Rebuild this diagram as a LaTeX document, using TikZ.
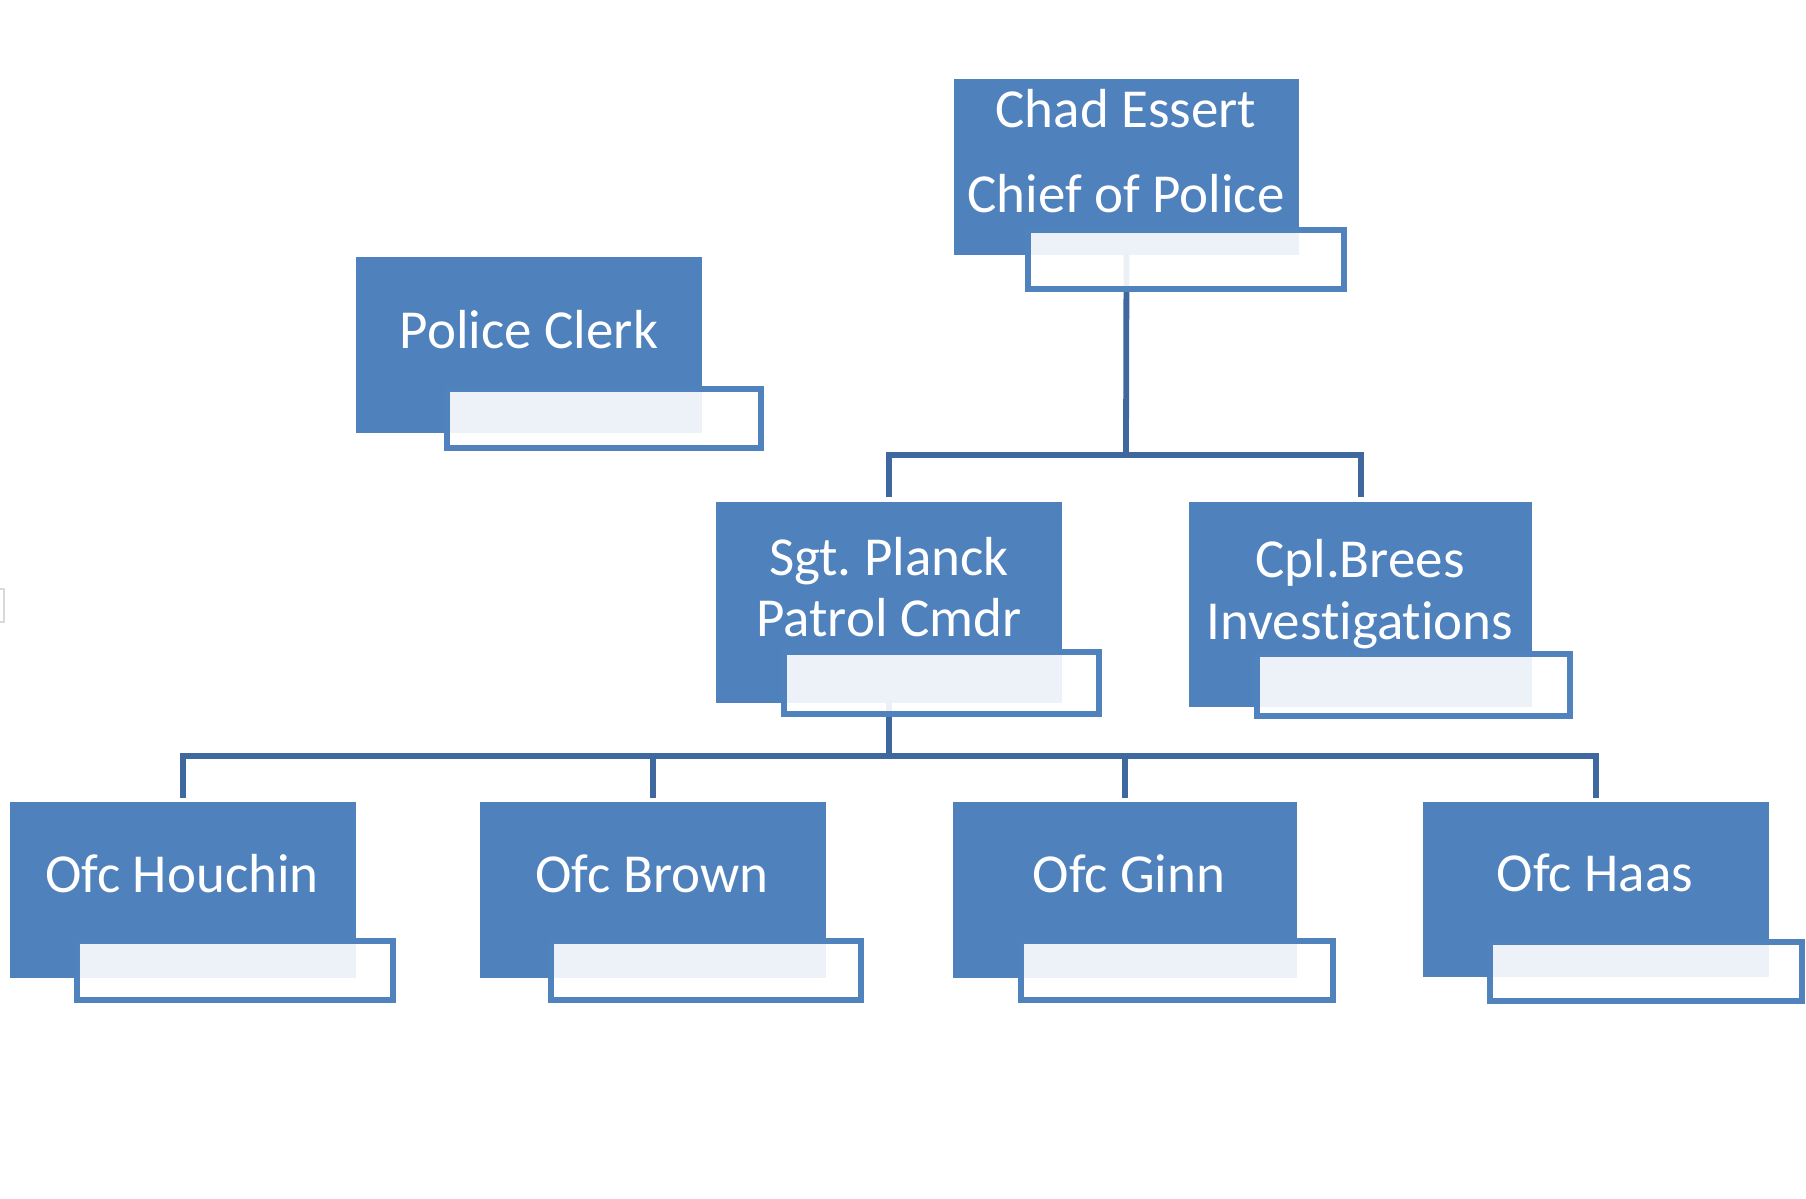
\documentclass[tikz,border=0pt]{standalone}
\usepackage{fontspec}
\setmainfont{Carlito}[Ligatures={NoCommon,NoDiscretionary,NoContextual}]
\frenchspacing
\definecolor{boxblue}{RGB}{79,129,189}
\definecolor{linkblue}{RGB}{62,104,158}
\definecolor{subedge}{RGB}{80,130,190}
\begin{document}
\begin{tikzpicture}[x=0.5pt,y=-0.5pt,
  bluebox/.style={rectangle, fill=boxblue, draw=none, inner sep=0pt, outer sep=0pt, anchor=north west},
  subbox/.style={rectangle, fill=white, fill opacity=0.9, draw=subedge, draw opacity=1, line width=3pt, inner sep=0pt, outer sep=0pt, anchor=north west, minimum height=29.5pt},
  label/.style={text=white, font=\fontsize{27.5pt}{33pt}\selectfont, anchor=base, inner sep=0pt},
  link/.style={draw=linkblue, line width=2.9pt, line cap=rect, line join=miter}]
\useasboundingbox (0,0) rectangle (1806,1199);
\fill[white] (0,0) rectangle (1806,1199);
% faint artifact at left edge
\draw[black!15, line width=1.2pt] (-20,589) rectangle (4,622);

% main boxes
\node[bluebox, minimum width=172.5pt, minimum height=88pt] (chief) at (954,79) {};
\node[bluebox, minimum width=173pt, minimum height=88pt] (clerk) at (356,257) {};
\node[bluebox, minimum width=173pt, minimum height=100.5pt] (sgt) at (716,502) {};
\node[bluebox, minimum width=171.5pt, minimum height=102.5pt] (cpl) at (1189,502) {};
\node[bluebox, minimum width=173pt, minimum height=88pt] (hou) at (10,802) {};
\node[bluebox, minimum width=173pt, minimum height=88pt] (bro) at (480,802) {};
\node[bluebox, minimum width=172pt, minimum height=88pt] (gin) at (953,802) {};
\node[bluebox, minimum width=173pt, minimum height=87.5pt] (haa) at (1423,802) {};

% connectors
\coordinate (j1) at (1126,455);
\coordinate (j1l) at (889,455);
\coordinate (j1r) at (1361,455);
\coordinate (d1l) at (889,494);
\coordinate (d1r) at (1361,494);
\draw[link] (chief.south) -- (j1);
\draw[link] (d1l) -- (j1l) -- (j1r) -- (d1r);

\coordinate (j2) at (889,756);
\coordinate (j2a) at (183,756);
\coordinate (j2b) at (653,756);
\coordinate (j2c) at (1125,756);
\coordinate (j2d) at (1596,756);
\coordinate (d2a) at (183,795);
\coordinate (d2b) at (653,795);
\coordinate (d2c) at (1125,795);
\coordinate (d2d) at (1596,795);
\draw[link] (sgt.south -| j2) -- (j2);
\draw[link] (d2a) -- (j2a) -- (j2d) -- (d2d);
\draw[link] (j2b) -- (d2b);
\draw[link] (j2c) -- (d2c);

% sub boxes (over connectors and boxes)
\node[subbox, minimum width=158pt] (chiefs) at (1028,230) {};
\node[subbox, minimum width=157pt, minimum height=29.5pt] (clerks) at (447,389) {};
\node[subbox, minimum width=157.5pt, minimum height=31pt] (sgts) at (784,652) {};
\node[subbox, minimum width=156.5pt, minimum height=31pt] (cpls) at (1257,654) {};
\node[subbox, minimum width=158pt, minimum height=29.5pt] (hous) at (77,941) {};
\node[subbox, minimum width=155pt, minimum height=29.5pt] (bros) at (551,941) {};
\node[subbox, minimum width=156pt, minimum height=29.5pt] (gins) at (1021,941) {};
\node[subbox, minimum width=156pt, minimum height=29.5pt] (haas) at (1490,942) {};

% labels
\node[label] (t1) at (1126,127) {Chad Essert};
\node[label] (t2) at (1126,212) {Chief of Police};
\node[label] (t3) at (529,348) {Police Clerk};
\node[label] (t4) at (889,575) {Sgt. Planck};
\node[label] (t5) at (889,636) {Patrol Cmdr};
\node[label] (t6) at (1360,577) {Cpl.Brees};
\node[label] (t7) at (1360,639) {Investigations};
\node[label] (t8) at (182,892) {Ofc Houchin};
\node[label] (t9) at (652,892) {Ofc Brown};
\node[label] (t10) at (1129,892) {Ofc Ginn};
\node[label] (t11) at (1595,891) {Ofc Haas};
\end{tikzpicture}
\end{document}
